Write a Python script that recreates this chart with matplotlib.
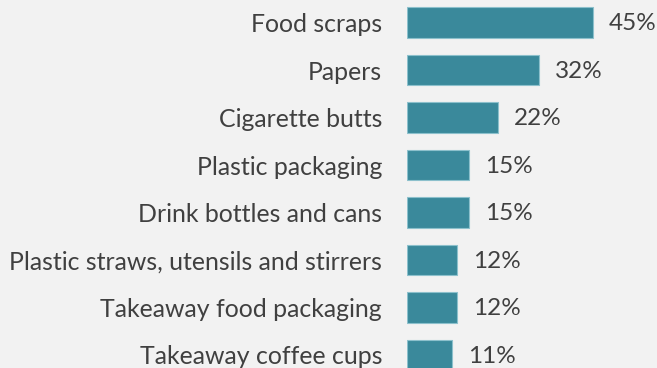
import matplotlib.pyplot as plt

categories = [
    "Food scraps",
    "Papers",
    "Cigarette butts",
    "Plastic packaging",
    "Drink bottles and cans",
    "Plastic straws, utensils and stirrers",
    "Takeaway food packaging",
    "Takeaway coffee cups",
]
values = [45, 32, 22, 15, 15, 12, 12, 11]

BG = "#f2f2f2"
BAR = "#3a899b"
TXT = "#404040"

plt.rcParams["font.family"] = ["Lato", "DejaVu Sans"]

fig = plt.figure(figsize=(6.57, 3.68), dpi=100, facecolor=BG)
# axes start where the bars start; labels sit in the left margin
ax = fig.add_axes([407 / 657, 0, 250 / 657, 1], facecolor=BG)

y = list(range(len(categories)))
ax.barh(y, values, height=0.65, color=BAR, edgecolor="#8cc0cc", linewidth=0.8)

for yi, v in zip(y, values):
    ax.annotate(f"{v}%", xy=(v, yi), xytext=(11.5, -1), textcoords="offset points",
                va="center", ha="left", fontsize=17.5, color=TXT)

ax.set_xlim(0, 250 / 4.135)
ax.set_ylim(7.274, -0.474)
ax.set_yticks(y)
ax.set_yticklabels(categories, fontsize=17.9, color=TXT)
ax.tick_params(axis="y", length=0, pad=18)
ax.set_xticks([])
for s in ax.spines.values():
    s.set_visible(False)

fig.savefig("out.png", dpi=100, facecolor=BG)
